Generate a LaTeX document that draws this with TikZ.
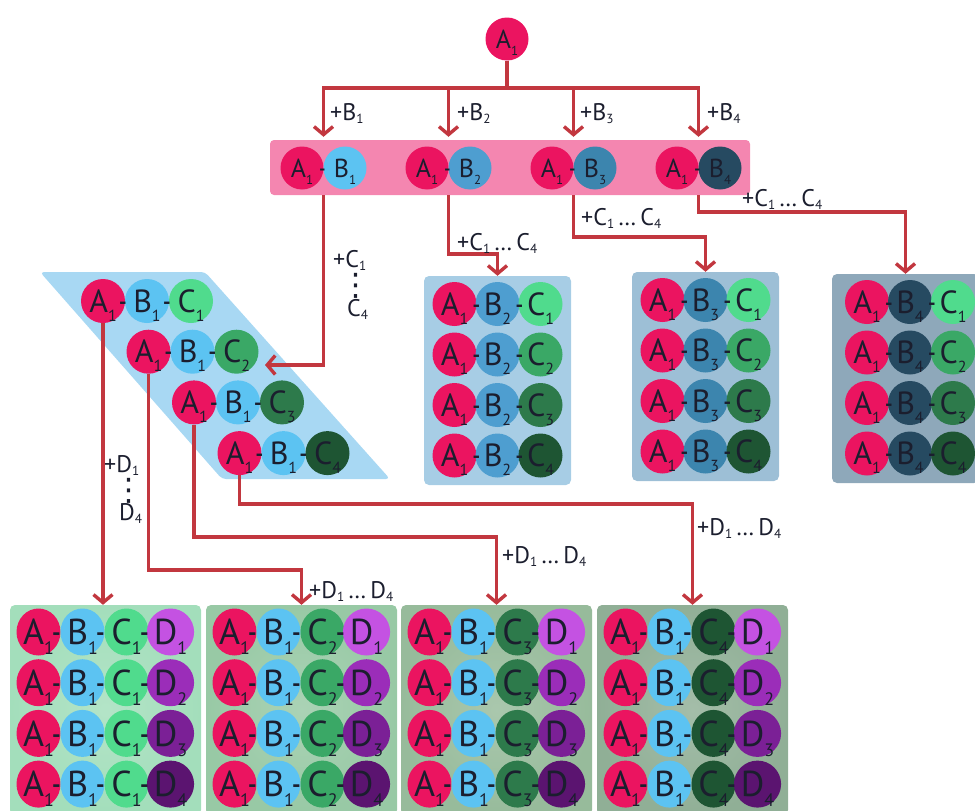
\documentclass[tikz,border=0pt]{standalone}
\usepackage{fontspec}
\setmainfont{PT Sans}
\newfontfamily\symfont{DejaVu Sans}
\usepackage{graphicx}
\usetikzlibrary{arrows.meta,shapes.geometric}

% palette
\definecolor{ink}{HTML}{1B1E2E}
\definecolor{linkred}{HTML}{C2373F}
\definecolor{bandpink}{HTML}{F486B0}
\definecolor{slabblue}{HTML}{A8D8F3}
\definecolor{boxB2}{HTML}{A7CDE5}
\definecolor{boxB3}{HTML}{9DBFD6}
\definecolor{boxB4}{HTML}{8EA8BA}
\definecolor{boxD1}{HTML}{A3DEBB}
\definecolor{boxD2}{HTML}{98C9A5}
\definecolor{boxD3}{HTML}{97BB9B}
\definecolor{boxD4}{HTML}{90AF96}
\definecolor{cA}{HTML}{EB1460}
\definecolor{cB1}{HTML}{5CC3F2}
\definecolor{cB2}{HTML}{4E9ED0}
\definecolor{cB3}{HTML}{3C85AE}
\definecolor{cB4}{HTML}{264A61}
\definecolor{cC1}{HTML}{50DB8D}
\definecolor{cC2}{HTML}{3AA866}
\definecolor{cC3}{HTML}{2D7A4B}
\definecolor{cC4}{HTML}{1E5533}
\definecolor{cD1}{HTML}{C452E2}
\definecolor{cD2}{HTML}{9B2DB9}
\definecolor{cD3}{HTML}{7B2096}
\definecolor{cD4}{HTML}{5B1470}

% letter with a low subscript (inside the balls)
\newcommand\sbs[1]{\raisebox{-0.28em}[0pt][0pt]{\scalebox{0.5}{#1}}}
\newcommand\ltr[2]{#1\sbs{#2}}
% subscript for the step labels
\newcommand\lsb[1]{\raisebox{-0.12em}[0pt][0pt]{\scalebox{0.55}{#1}}}
% narrow hyphen joining two balls
\newcommand\hy{\scalebox{0.7}[1]{-}}

\tikzset{
  ball/.style={circle, inner sep=0pt, text=ink},
  pairball/.style={ball, minimum size=43pt, font=\fontsize{26}{26}\selectfont, text height=18.2pt, text depth=0pt},
  midball/.style={ball, minimum size=44pt, font=\fontsize{32}{32}\selectfont, text height=22.4pt, text depth=0pt},
  bigball/.style={ellipse, inner sep=0pt, text=ink, minimum width=44pt, minimum height=47pt, font=\fontsize{36}{36}\selectfont, text height=25.2pt, text depth=0pt},
  pairhy/.style={inner sep=0pt, text=ink, font=\fontsize{26}{26}\selectfont, text height=18.2pt, text depth=0pt},
  midhy/.style={inner sep=0pt, text=ink, font=\fontsize{32}{32}\selectfont, text height=22.4pt, text depth=0pt},
  bighy/.style={inner sep=0pt, text=ink, font=\fontsize{36}{36}\selectfont, text height=25.2pt, text depth=0pt},
  pairslot/.style={rectangle, inner sep=0pt, minimum width=86pt, minimum height=58pt},
  bbox/.style={rectangle, rounded corners=5pt, inner sep=0pt, minimum width=147pt, minimum height=209pt},
  dbox/.style={rectangle, rounded corners=5pt, inner sep=0pt, minimum width=191pt, minimum height=210pt},
  lab/.style={inner sep=0pt, text=ink, font=\fontsize{24}{24}\selectfont, text height=16.8pt, text depth=0pt, anchor=west},
  vdot/.style={inner sep=0pt, text=ink, anchor=base, font=\symfont\fontsize{31}{31}\selectfont},
  link/.style={draw=linkred, line width=3.4pt, -{Straight Barb[length=8pt,width=19pt]}},
}

\begin{document}
\begin{tikzpicture}[x=1pt,y=-1pt]
\useasboundingbox (0,0) rectangle (975,811);

% ---------- root ----------
\node[pairball, fill=cA] (top) at (507,39) {\ltr A1};

% ---------- A1-Bk pairs on the pink band ----------
\node[fill=bandpink, rounded corners=4pt, inner sep=0pt, minimum width=480pt, minimum height=55pt] (band) at (510,167.5) {};
\foreach \k in {1,...,4} {
  \pgfmathsetmacro\jx{323.5+125*(\k-1)}
  \node[pairslot] (pair\k) at (\jx,166) {};
  \node[pairball, fill=cA] (pA\k) at (\jx-21.5,168) {\ltr A1};
  \node[pairball, fill=cB\k] (pB\k) at (\jx+21.5,168) {\ltr B\k};
  \node[pairhy] at (\jx-1,168) {\hy};
}

% ---------- A1-B1-Ck staircase ----------
\fill[slabblue, rounded corners=4pt] (40,272) -- (205,272) -- (390,479) -- (222,479) -- cycle;
\foreach \r in {1,...,4} {
  \pgfmathsetmacro\sx{103+45.5*(\r-1)}
  \pgfmathsetmacro\sy{301+50.7*(\r-1)}
  \node[midball, fill=cA] (sA\r) at (\sx,\sy) {\ltr A1};
  \node[midball, fill=cB1] (sB\r) at (\sx+44,\sy) {\ltr B1};
  \node[midball, fill=cC\r] (sC\r) at (\sx+88,\sy) {\ltr C\r};
  \node[midhy] at (\sx+20,\sy) {\hy};
  \node[midhy] at (\sx+64,\sy) {\hy};
}

% ---------- A1-Bk-Cm boxes ----------
\foreach \b/\cx/\ty/\off in {2/497.5/276/0, 3/705.5/272/0, 4/905.5/274/4.5} {
  \node[bbox, fill=boxB\b] (boxB\b) at (\cx,\ty+104.5) {};
  \foreach \c in {1,...,4} {
    \pgfmathsetmacro\ry{\ty+28+50.5*(\c-1)}
    \pgfmathsetmacro\mx{\cx+\off}
    \node[midball, fill=cA] at (\mx-43,\ry) {\ltr A1};
    \node[midball, fill=cB\b] at (\mx,\ry) {\ltr B\b};
    \node[midball, fill=cC\c] at (\mx+43,\ry) {\ltr C\c};
    \node[midhy] at (\mx-21,\ry) {\hy};
    \node[midhy] at (\mx+22,\ry) {\hy};
  }
}

% ---------- A1-B1-Cm-Dn boxes ----------
\foreach \c/\cx in {1/105.5, 2/301.5, 3/496.5, 4/692.5} {
  \node[dbox, inner color=boxD\c!82!white, outer color=boxD\c] (boxD\c) at (\cx,710) {};
  \foreach \d in {1,...,4} {
    \pgfmathsetmacro\ry{632+50.7*(\d-1)}
    \node[bigball, fill=cA] at (\cx-67,\ry) {\ltr A1};
    \node[bigball, fill=cB1] at (\cx-23,\ry) {\ltr B1};
    \node[bigball, fill=cC\c] at (\cx+21,\ry) {\ltr C\c};
    \node[bigball, fill=cD\d] at (\cx+65,\ry) {\ltr D\d};
    \node[bighy] at (\cx-49,\ry) {\hy};
    \node[bighy] at (\cx-5,\ry) {\hy};
    \node[bighy] at (\cx+39,\ry) {\hy};
  }
}

% ---------- connectors ----------
\foreach \k in {1,...,4}
  \draw[link] (top.south) -- (top.south |- 0,88) -| (pair\k.north);

\coordinate (cin) at (265,365);
\draw[link] (pair1.south) |- (cin);
\draw[link] (pair2.south) -- (pair2.south |- 0,254) -| (boxB2.north);
\draw[link] (pair3.south) -- (pair3.south |- 0,237) -| (boxB3.north);
\draw[link] (pair4.south) -- (pair4.south |- 0,212) -| (boxB4.north);

\draw[link] (sA1.south) -- (sA1.south |- boxD1.north);
\draw[link] (sA2.south) -- (sA2.south |- 0,570) -| (boxD2.north);
\draw[link] (sA3.south) -- (sA3.south |- 0,537) -| (boxD3.north);
\draw[link] (sA4.south) -- (sA4.south |- 0,504) -| (boxD4.north);

% ---------- step labels ----------
\node[lab] at (330,112) {+B\lsb1};
\node[lab] at (457,112) {+B\lsb2};
\node[lab] at (580,112) {+B\lsb3};
\node[lab] at (707,112) {+B\lsb4};

\node[lab] at (333,259) {+C\lsb1};
\node[vdot] at (356,295) {⋮};
\node[lab] at (347,308) {C\lsb4};
\node[lab] at (457,242) {+C\lsb1\,…\,C\lsb4};
\node[lab] at (581,217) {+C\lsb1\,…\,C\lsb4};
\node[lab] at (742,198) {+C\lsb1\,…\,C\lsb4};

\node[lab] at (104,464) {+D\lsb1};
\node[vdot] at (129,500) {⋮};
\node[lab] at (119,512) {D\lsb4};
\node[lab] at (309,590) {+D\lsb1\,…\,D\lsb4};
\node[lab] at (502,555) {+D\lsb1\,…\,D\lsb4};
\node[lab] at (697,527) {+D\lsb1\,…\,D\lsb4};
\end{tikzpicture}
\end{document}
